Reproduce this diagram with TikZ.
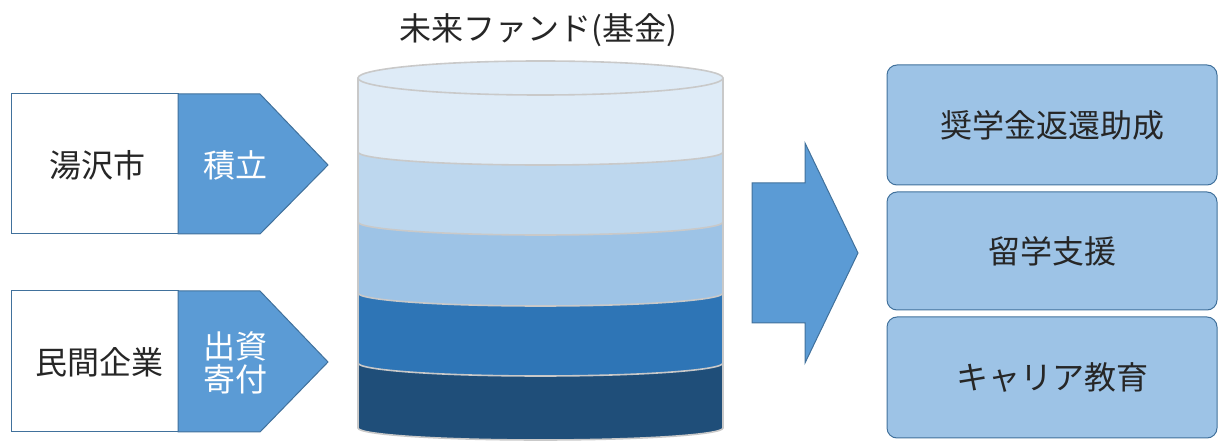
\documentclass[tikz,border=0pt]{standalone}
\usepackage{fontspec}
\newfontfamily\jp{Noto Sans CJK JP}
\definecolor{edgec}{HTML}{41719C}
\definecolor{midc}{HTML}{5B9BD5}
\definecolor{txtc}{HTML}{262626}
\definecolor{bandA}{HTML}{DEEBF7}
\definecolor{bandB}{HTML}{BDD7EE}
\definecolor{bandC}{HTML}{9DC3E6}
\definecolor{bandD}{HTML}{2E75B6}
\definecolor{bandE}{HTML}{1F4E79}
\definecolor{bandedge}{HTML}{C9C9C9}
\definecolor{goalc}{HTML}{9DC3E6}
\begin{document}
\begin{tikzpicture}[x=1pt,y=1pt,
  txt/.style={font=\jp\fontsize{32}{33}\selectfont, text=txtc, inner sep=0pt},
  wtxt/.style={font=\jp\fontsize{32}{33}\selectfont, text=white, inner sep=0pt, align=center},
  srcbox/.style={draw=edgec, fill=white, line width=1pt, anchor=south west, inner sep=0pt},
  pent/.style={draw=edgec, fill=midc, line width=1pt},
  bandline/.style={draw=bandedge, line width=1.6pt},
  goal/.style={draw=edgec, fill=goalc, rounded corners=10pt, line width=1pt, minimum width=330pt, font=\jp\fontsize{32}{33}\selectfont, text=txtc}
]
\useasboundingbox (0,0) rectangle (1219,442);

% left source boxes
\node[srcbox, minimum width=167pt, minimum height=140pt] (yuzawabox) at (11,208) {};
\node[txt] (yuzawa) at (97,277) {湯沢市};
\draw[pent] (178,348) -- (260,348) -- (328,277) -- (260,208) -- (178,208) -- cycle;
\node[wtxt] (tsumitate) at (235,277) {積立};

\node[srcbox, minimum width=167pt, minimum height=141pt] (minkanbox) at (11,10) {};
\node[txt] (minkan) at (99,80) {民間企業};
\draw[pent] (178,151) -- (260,151) -- (328,80) -- (260,10) -- (178,10) -- cycle;
\node[wtxt] (shusshi) at (235,79) {出資\\寄付};

% title
\node[txt] (title) at (538,412) {未来ファンド(基金)};

% cylinder bands (bottom first)
\foreach \t/\b/\c/\r in {79/14/bandE/12, 149/79/bandD/13, 220/149/bandC/13, 290/220/bandB/13, 364/290/bandA/13}{
  \fill[\c] (358,\t) -- (358,\b) arc[start angle=180,end angle=360,x radius=182.5,y radius=\r] -- (723,\t) -- cycle;
  \draw[bandline] (358,\t) -- (358,\b) arc[start angle=180,end angle=360,x radius=182.5,y radius=\r] -- (723,\t);
}
\draw[bandline, fill=bandA] (540.5,364) ellipse[x radius=182.5, y radius=17];

% big arrow
\draw[pent] (752,259) -- (805,259) -- (805,299) -- (858,189) -- (805,79) -- (805,119) -- (752,119) -- cycle;

% goal boxes
\node[goal, minimum height=120pt] (shogaku) at (1052,317) {奨学金返還助成};
\node[goal, minimum height=118pt] (ryugaku) at (1052,191) {留学支援};
\node[goal, minimum height=121pt] (career) at (1052,64.5) {キャリア教育};
\end{tikzpicture}
\end{document}
